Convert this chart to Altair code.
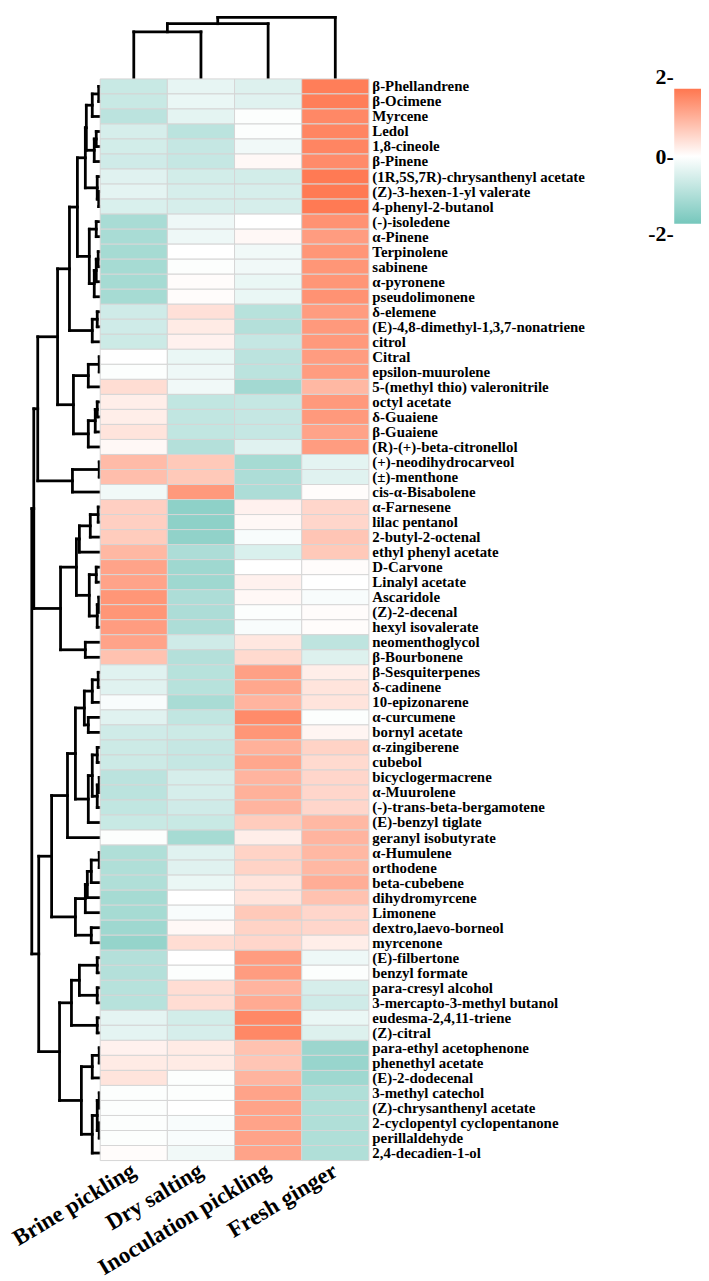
import altair as alt
import pandas as pd

samples = ["Brine pickling", "Dry salting", "Inoculation pickling", "Fresh ginger"]

compounds = [
    "β-Phellandrene", "β-Ocimene", "Myrcene", "Ledol", "1,8-cineole", "β-Pinene",
    "(1R,5S,7R)-chrysanthenyl acetate", "(Z)-3-hexen-1-yl valerate", "4-phenyl-2-butanol",
    "(-)-isoledene", "α-Pinene", "Terpinolene", "sabinene", "α-pyronene", "pseudolimonene",
    "δ-elemene", "(E)-4,8-dimethyl-1,3,7-nonatriene", "citrol", "Citral", "epsilon-muurolene",
    "5-(methyl thio) valeronitrile", "octyl acetate", "δ-Guaiene", "β-Guaiene",
    "(R)-(+)-beta-citronellol", "(+)-neodihydrocarveol", "(±)-menthone", "cis-α-Bisabolene",
    "α-Farnesene", "lilac pentanol", "2-butyl-2-octenal", "ethyl phenyl acetate", "D-Carvone",
    "Linalyl acetate", "Ascaridole", "(Z)-2-decenal", "hexyl isovalerate", "neomenthoglycol",
    "β-Bourbonene", "β-Sesquiterpenes", "δ-cadinene", "10-epizonarene", "α-curcumene",
    "bornyl acetate", "α-zingiberene", "cubebol", "bicyclogermacrene", "α-Muurolene",
    "(-)-trans-beta-bergamotene", "(E)-benzyl tiglate", "geranyl isobutyrate", "α-Humulene",
    "orthodene", "beta-cubebene", "dihydromyrcene", "Limonene", "dextro,laevo-borneol",
    "myrcenone", "(E)-filbertone", "benzyl formate", "para-cresyl alcohol",
    "3-mercapto-3-methyl butanol", "eudesma-2,4,11-triene", "(Z)-citral",
    "para-ethyl acetophenone", "phenethyl acetate", "(E)-2-dodecenal", "3-methyl catechol",
    "(Z)-chrysanthenyl acetate", "2-cyclopentyl cyclopentanone", "perillaldehyde",
    "2,4-decadien-1-ol",
]

brine = [-0.8, -0.8, -1.0, -0.6, -0.65, -0.7, -0.45, -0.4, -0.55, -1.25, -1.25, -1.3, -1.3,
         -1.3, -1.3, -0.7, -0.7, -0.75, 0.0, -0.05, 0.5, 0.25, 0.25, 0.4, 0.1, 1.0, 0.95, -0.2,
         0.7, 0.7, 0.75, 1.05, 1.35, 1.35, 1.55, 1.55, 1.45, 1.35, 0.9, -0.45, -0.45, -0.1,
         -0.45, -0.7, -0.75, -0.75, -1.0, -1.0, -0.9, -0.8, -0.05, -1.15, -1.15, -1.15, -1.3,
         -1.3, -1.4, -1.55, -1.1, -1.1, -1.05, -1.05, -0.4, -0.4, 0.2, 0.3, 0.4, -0.05, -0.05,
         -0.05, -0.05, 0.05]
dry = [-0.35, -0.3, -0.4, -1.0, -0.85, -0.85, -0.65, -0.6, -0.6, -0.25, -0.25, 0.0, -0.05,
       0.05, 0.05, 0.45, 0.3, 0.2, -0.3, -0.25, -0.2, -0.9, -0.9, -0.9, -1.1, 0.8, 0.8, 1.5,
       -1.65, -1.65, -1.6, -1.2, -1.4, -1.4, -1.2, -1.2, -1.2, -0.7, -1.1, -1.05, -1.05, -1.25,
       -0.9, -0.75, -0.85, -0.85, -0.6, -0.6, -0.7, -0.8, -1.3, -0.45, -0.45, -0.3, 0.0, -0.1,
       0.1, 0.5, 0.0, -0.05, 0.5, 0.5, -0.65, -0.6, 0.3, 0.3, -0.05, -0.05, 0.0, -0.1, -0.1,
       -0.2]
inoc = [-0.5, -0.45, -0.05, -0.05, -0.2, 0.1, -0.65, -0.6, -0.6, 0.0, 0.1, -0.2, -0.2, -0.3,
        -0.3, -1.05, -1.1, -0.85, -1.0, -1.0, -1.35, -0.85, -0.85, -0.85, -0.45, -1.3, -1.2,
        -1.2, 0.2, 0.1, -0.1, -0.55, 0.0, 0.2, 0.1, -0.05, -0.1, 0.35, 0.55, 1.4, 1.3, 1.1, 1.7,
        1.55, 1.15, 1.3, 1.1, 1.15, 1.1, 0.75, 0.25, 0.65, 0.65, 0.4, 0.4, 0.8, 0.65, 0.6, 1.45,
        1.45, 1.1, 1.25, 1.75, 1.75, 0.9, 0.85, 1.1, 1.35, 1.35, 1.35, 1.35, 1.35]
fresh = [1.9, 1.9, 1.75, 1.8, 1.8, 1.7, 1.95, 1.95, 1.95, 1.6, 1.45, 1.55, 1.55, 1.55, 1.6,
         1.45, 1.5, 1.5, 1.45, 1.45, 1.05, 1.5, 1.5, 1.35, 1.45, -0.4, -0.45, 0.05, 0.6, 0.6,
         0.85, 0.8, 0.05, 0.0, -0.1, 0.05, 0.05, -0.95, -0.5, 0.25, 0.4, 0.4, -0.05, 0.15, 0.65,
         0.55, 0.6, 0.6, 0.6, 1.05, 1.1, 1.05, 1.05, 1.2, 0.9, 0.6, 0.6, 0.25, -0.25, -0.05,
         -0.6, -0.7, -0.3, -0.5, -1.45, -1.5, -1.4, -1.15, -1.15, -1.15, -1.15, -1.15]

# Row dendrogram merges: (node, left, right, merge height); ints are leaf rows
row_merges = [
    ("a1", 0, 1, 1.5), ("a2", "a1", 2, 8), ("a3", 3, 4, 4), ("a4", "a3", 5, 6),
    ("a5", "a2", "a4", 14), ("a6", 7, 8, 1.5), ("a7", 6, "a6", 3), ("a8", "a5", "a7", 15),
    ("a9", 9, 10, 4), ("a10", 11, 12, 2), ("a11", "a10", 13, 4), ("a12", "a11", 14, 6),
    ("a13", "a9", "a12", 11), ("a14", "a8", "a13", 23), ("a15", 15, 16, 3),
    ("a16", "a15", 17, 8), ("a17", "a14", "a16", 31), ("a18", 18, 19, 1),
    ("a19", "a18", 20, 12), ("a20", 21, 22, 3), ("a21", "a20", 23, 5), ("a22", "a21", 24, 12),
    ("a23", "a19", "a22", 27), ("a24", "a17", "a23", 43), ("a25", 25, 26, 1),
    ("a26", "a25", 27, 28), ("a27", "a24", "a26", 63), ("b1", 28, 29, 2),
    ("b2", "b1", 30, 10), ("b3", "b2", 31, 21), ("b4", 32, 33, 4), ("b5", 34, 35, 1.5),
    ("b6", "b5", 36, 3), ("b7", "b4", "b6", 11), ("b8", "b3", "b7", 24), ("b9", 37, 38, 15),
    ("b10", "b8", "b9", 40), ("L", "a27", "b10", 67),
    ("c1", 39, 40, 2), ("c2", "c1", 41, 8), ("c3", 42, 43, 12), ("c4", "c2", "c3", 16),
    ("c5", 44, 45, 3), ("c6", 46, 47, 1), ("c7", "c6", 48, 3), ("c8", "c5", "c7", 8),
    ("c9", "c8", 49, 12), ("c10", "c4", "c9", 25), ("c11", "c10", 50, 33),
    ("d1", 51, 52, 1), ("d2", "d1", 53, 9), ("d3", "d2", 54, 13), ("d4", "d3", 55, 15),
    ("d5", 56, 57, 9), ("d6", "d4", "d5", 25), ("P", "c11", "d6", 49),
    ("e1", 58, 59, 3), ("e2", 60, 61, 3), ("e3", "e1", "e2", 21), ("e4", 62, 63, 3),
    ("e5", "e3", "e4", 29), ("f1", 64, 65, 1), ("f2", "f1", 66, 8), ("f3", 67, 68, 1),
    ("f4", 69, 70, 1), ("f5", "f3", "f4", 3), ("f6", "f5", 71, 8), ("f7", "f2", "f6", 19),
    ("Q", "e5", "f7", 41), ("R", "P", "Q", 62), ("root", "L", "R", 69),
]
col_merges = [("k1", 0, 1, 52), ("k2", "k1", 2, 61), ("k3", "k2", 3, 68)]

legend_values = [-2, 0, 2]
TEAL, WHITE, CORAL = "#76c7bc", "#ffffff", "#ff7750"


def dendro_segments(merges, n):
    pos = {i: (i + 0.5, 0.0) for i in range(n)}
    segs = []
    for name, a, b, h in merges:
        pa, ha = pos[a]
        pb, hb = pos[b]
        segs.append({"p": pa, "p2": pa, "h": ha, "h2": h})
        segs.append({"p": pb, "p2": pb, "h": hb, "h2": h})
        segs.append({"p": pa, "p2": pb, "h": h, "h2": h})
        pos[name] = ((pa + pb) / 2.0, h)
    return pd.DataFrame(segs)


row_seg = dendro_segments(row_merges, len(compounds))
col_seg = dendro_segments(col_merges, len(samples))

records = []
for i, c in enumerate(compounds):
    for s, arr in zip(samples, [brine, dry, inoc, fresh]):
        records.append({"compound": c, "sample": s, "value": arr[i]})
heat_df = pd.DataFrame(records)

FONT = "Liberation Serif"
HM_W, HM_H = 271, 1091
RD_W, CD_H = 93, 63
GAP_W, LEG_W, LEG_H = 308, 27, 146
LINE_W = 2.8

heat = alt.Chart(heat_df).mark_rect(stroke="#d6d6d6", strokeWidth=1).encode(
    x=alt.X("sample:N", sort=samples, scale=alt.Scale(paddingInner=0, paddingOuter=0),
            axis=alt.Axis(orient="bottom", title=None, ticks=False, domain=False,
                          labelAngle=329, labelAlign="right", labelBaseline="middle",
                          labelFont=FONT, labelFontSize=23, labelFontWeight="bold",
                          labelColor="black", labelPadding=8, labelLimit=400)),
    y=alt.Y("compound:N", sort=compounds, scale=alt.Scale(paddingInner=0, paddingOuter=0),
            axis=alt.Axis(orient="right", title=None, ticks=False, domain=False,
                          labelFont=FONT, labelFontSize=15, labelFontWeight="bold",
                          labelColor="black", labelPadding=3, labelLimit=400)),
    color=alt.Color("value:Q",
                    scale=alt.Scale(domain=[-2, 0, 2], range=[TEAL, WHITE, CORAL],
                                    interpolate="rgb"),
                    legend=None),
).properties(width=HM_W, height=HM_H)

row_dendro = alt.Chart(row_seg).mark_rule(color="black", strokeWidth=LINE_W, strokeCap="square").encode(
    x=alt.X("h:Q", scale=alt.Scale(domain=[0, RD_W], reverse=True, nice=False, zero=False), axis=None),
    x2="h2:Q",
    y=alt.Y("p:Q", scale=alt.Scale(domain=[0, len(compounds)], reverse=True, nice=False, zero=False), axis=None),
    y2="p2:Q",
).properties(width=RD_W, height=HM_H)

col_dendro = alt.Chart(col_seg).mark_rule(color="black", strokeWidth=LINE_W, strokeCap="square").encode(
    x=alt.X("p:Q", scale=alt.Scale(domain=[0, len(samples)], nice=False, zero=False), axis=None),
    x2="p2:Q",
    y=alt.Y("h:Q", scale=alt.Scale(domain=[0, 69], nice=False, zero=False), axis=None),
    y2="h2:Q",
).properties(width=HM_W, height=CD_H)


def spacer(w, h):
    return alt.Chart(pd.DataFrame({"v": [0]})).mark_point(opacity=0).encode(
        x=alt.X("v:Q", axis=None), y=alt.Y("v:Q", axis=None)
    ).properties(width=w, height=h)


legend_df = pd.DataFrame({"lo": [min(legend_values)], "hi": [max(legend_values)]})
legend_bar = alt.Chart(legend_df).mark_rect(
    fill=alt.Gradient(gradient="linear", x1=0, y1=1, x2=0, y2=0,
                      stops=[alt.GradientStop(offset=0, color=TEAL),
                             alt.GradientStop(offset=0.5, color=WHITE),
                             alt.GradientStop(offset=1, color=CORAL)])
).encode(
    x=alt.value(0), x2=alt.value(LEG_W),
    y=alt.Y("lo:Q", scale=alt.Scale(domain=[min(legend_values), max(legend_values)],
                                    range=[LEG_H, 10], nice=False, zero=False),
            axis=alt.Axis(orient="left", title=None, values=legend_values, ticks=False, domain=False,
                          grid=False, labelExpr="datum.value + '-'", labelFont=FONT,
                          labelFontSize=22, labelFontWeight="bold", labelColor="black",
                          labelPadding=1,
                          labelBaseline={"expr": "datum.value > 0 ? 'bottom' : (datum.value < 0 ? 'top' : 'middle')"})),
    y2="hi:Q",
).properties(width=LEG_W, height=LEG_H)

chart = alt.concat(
    spacer(RD_W, CD_H), col_dendro, spacer(GAP_W, 1), spacer(LEG_W, 1),
    row_dendro, heat, spacer(GAP_W, 1), legend_bar,
    columns=4, spacing=0, bounds="flush",
).properties(padding=0).configure_view(stroke=None)

chart.save("out.html", embed_options={"renderer": "svg", "actions": False})
